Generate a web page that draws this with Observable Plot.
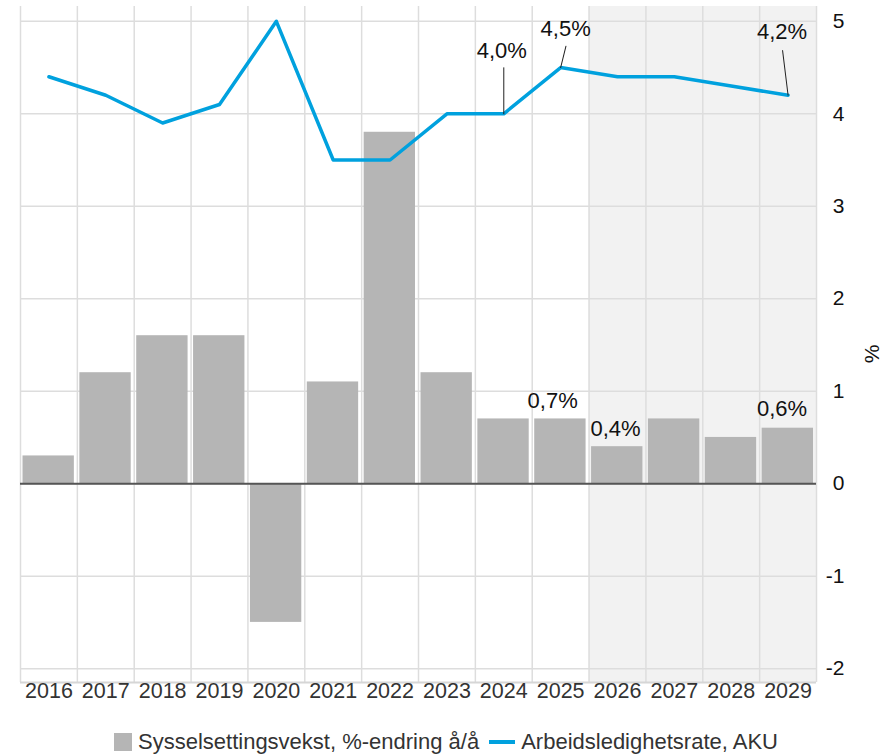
<!DOCTYPE html>
<html>
<head>
<meta charset="utf-8">
<script src="https://cdn.jsdelivr.net/npm/d3@7"></script>
<script src="https://cdn.jsdelivr.net/npm/@observablehq/plot@0.6"></script>
<style>
  body { margin: 0; background: #fff; font-family: "Liberation Sans", Arial, sans-serif; }
  #legend { height: 24px; display: flex; justify-content: center; align-items: center; font-size: 22px; color: #333; padding-left: 8px; }
  .sw { display: inline-block; width: 18px; height: 18px; background: #b5b5b5; margin-right: 6px; }
  .ln { display: inline-block; width: 26px; height: 4px; background: #00a1de; margin: 0 6px 0 10px; }
</style>
</head>
<body>
<div id="chart"></div>
<div id="legend"><span class="sw"></span><span>Sysselsettingsvekst, %-endring å/å</span><span class="ln"></span><span>Arbeidsledighetsrate, AKU</span></div>
<script>
const years = [2016, 2017, 2018, 2019, 2020, 2021, 2022, 2023, 2024, 2025, 2026, 2027, 2028, 2029];
const employmentGrowth = [0.3, 1.2, 1.6, 1.6, -1.5, 1.1, 3.8, 1.2, 0.7, 0.7, 0.4, 0.7, 0.5, 0.6];
const unemploymentRate = [4.4, 4.2, 3.9, 4.1, 5.0, 3.5, 3.5, 4.0, 4.0, 4.5, 4.4, 4.4, 4.3, 4.2];
const yTicks = [-2, -1, 0, 1, 2, 3, 4, 5];
const forecastFrom = 2026;
const lineLabelYears = [2024, 2025, 2029];
const barLabelYears = [2025, 2026, 2029];

// annotation layout (pixel offsets of labels/leaders)
const lineLabelLayout = [
  {dx: -2, dy: -63, len: 46, rot: 0},
  {dx: 5, dy: -39, len: 22, rot: 14},
  {dx: -6, dy: -63, len: 45, rot: -7}
];
const barLabelLayout = [
  {dx: -8, dy: -18},
  {dx: -2, dy: -18},
  {dx: -6, dy: -19}
];

const yDomain = [-2.15, 5.16];
const data = years.map((year, i) => ({year, g: employmentGrowth[i], u: unemploymentRate[i]}));
const fmt = v => d3.format(".1f")(v).replace(".", ",") + "%";
const boundaries = years.map(y => y - 0.5).concat([years[years.length - 1] + 0.5]);
const font = "'Liberation Sans', Arial, sans-serif";

const leaderShape = {draw(context, l) { context.moveTo(0, 0); context.lineTo(0, -l); }};

const annotationMarks = [];
lineLabelYears.forEach((yr, i) => {
  const d = data.find(e => e.year === yr);
  const L = lineLabelLayout[i];
  annotationMarks.push(Plot.vector([d], {x: "year", y: "u", length: L.len, rotate: L.rot, anchor: "start", shape: leaderShape, stroke: "#222", strokeWidth: 1}));
  annotationMarks.push(Plot.text([d], {x: "year", y: "u", text: e => fmt(e.u), dx: L.dx, dy: L.dy, fontSize: 22, fill: "#111"}));
});
barLabelYears.forEach((yr, i) => {
  const d = data.find(e => e.year === yr);
  const L = barLabelLayout[i];
  annotationMarks.push(Plot.text([d], {x: "year", y: "g", text: e => fmt(e.g), dx: L.dx, dy: L.dy, fontSize: 22, fill: "#111"}));
});

const chart = Plot.plot({
  width: 884,
  height: 730,
  marginLeft: 20,
  marginRight: 68,
  marginTop: 6,
  marginBottom: 48,
  style: {fontFamily: font, fontSize: "20px", background: "#fff"},
  x: {type: "linear", domain: [years[0] - 0.5, years[years.length - 1] + 0.5], axis: null},
  y: {domain: yDomain, axis: null},
  marks: [
    Plot.rect([0], {x1: forecastFrom - 0.5, x2: years[years.length - 1] + 0.5, y1: yDomain[0], y2: yDomain[1], fill: "#f2f2f2"}),
    Plot.ruleY(yTicks, {stroke: "#dddddd", strokeWidth: 1.5}),
    Plot.ruleX(boundaries, {stroke: "#dddddd", strokeWidth: 1.5}),
    Plot.ruleY([yDomain[0]], {stroke: "#d6d6d6", strokeWidth: 2}),
    Plot.rectY(data, {x1: d => d.year - 0.5, x2: d => d.year + 0.5, y: "g", fill: "#b5b5b5", insetLeft: 2.5, insetRight: 3}),
    Plot.ruleY([0], {stroke: "#555", strokeWidth: 2}),
    Plot.line(data, {x: "year", y: "u", stroke: "#00a1de", strokeWidth: 3.5}),
    Plot.text(years, {x: d => d, frameAnchor: "bottom", dy: 15, fill: "#333", fontSize: 21.5, text: d => String(d)}),
    Plot.text(yTicks, {y: d => d, frameAnchor: "right", dx: 28, textAnchor: "end", fill: "#111", fontSize: 21, text: d => String(d)}),
    Plot.text(["%"], {frameAnchor: "right", dx: 56, rotate: -90, fill: "#111", fontSize: 21}),
    ...annotationMarks
  ]
});
document.getElementById("chart").appendChild(chart);
</script>
</body>
</html>
